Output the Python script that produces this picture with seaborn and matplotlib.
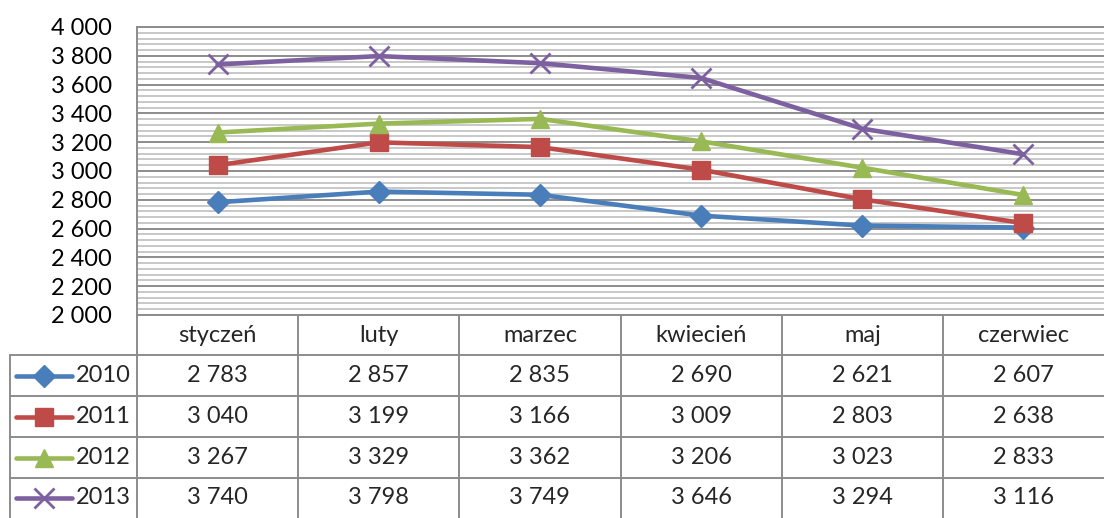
import matplotlib
matplotlib.use("Agg")
import matplotlib.pyplot as plt
import seaborn as sns
import pandas as pd
from matplotlib.ticker import MultipleLocator, FuncFormatter

# data
months = ["styczeń", "luty", "marzec", "kwiecień", "maj", "czerwiec"]
years = ["2010", "2011", "2012", "2013"]
v2010 = [2783, 2857, 2835, 2690, 2621, 2607]
v2011 = [3040, 3199, 3166, 3009, 2803, 2638]
v2012 = [3267, 3329, 3362, 3206, 3023, 2833]
v2013 = [3740, 3798, 3749, 3646, 3294, 3116]
series = [v2010, v2011, v2012, v2013]

colors = ["#4A7EBB", "#BE4B48", "#98B954", "#7D60A0"]
markers = ["D", "s", "^", "x"]
msizes = [11, 13, 13, 14]
FS = 17

sns.set_theme(style="white")
plt.rcParams["font.family"] = ["Lato", "DejaVu Sans"]

W, H = 1104, 518
fig = plt.figure(figsize=(W / 100, H / 100), dpi=100)

# plot area in pixel coords
px_left, px_right, px_top, px_bot = 137, 1104, 27, 315
ax = fig.add_axes([px_left / W, 1 - px_bot / H, (px_right - px_left) / W, (px_bot - px_top) / H])

def fmt(v):
    return f"{int(v):,}".replace(",", " ")

df = pd.DataFrame({
    "x": list(range(len(months))) * len(years),
    "value": sum(series, []),
    "year": [y for y in years for _ in months],
})

for i, yr in enumerate(years):
    sub = df[df["year"] == yr]
    sns.lineplot(data=sub, x="x", y="value", ax=ax, color=colors[i], lw=3.3,
                 marker=markers[i], markersize=msizes[i], mec=colors[i],
                 mfc=colors[i], mew=2 if markers[i] == "x" else 1,
                 legend=False, zorder=3)

ax.set_xlim(-0.5, len(months) - 0.5)
ax.set_ylim(2000, 4000)
ax.yaxis.set_major_locator(MultipleLocator(200))
ax.yaxis.set_minor_locator(MultipleLocator(40))
ax.yaxis.set_major_formatter(FuncFormatter(lambda v, p: fmt(v)))
ax.grid(which="minor", axis="y", color="#C4C4C4", lw=1.3)
ax.grid(which="major", axis="y", color="#8C8C8C", lw=1.4)
ax.set_axisbelow(True)
ax.set_xticks([])
ax.set_xlabel("")
ax.set_ylabel("")
ax.tick_params(axis="y", which="both", length=0, pad=18, labelsize=FS, colors="black")
ax.spines["right"].set_visible(False)
for s in ["left", "top", "bottom"]:
    ax.spines[s].set_color("#8C8C8C")
    ax.spines[s].set_linewidth(1.4)

# data table below the plot
tax = fig.add_axes([0, 0, 1, (H - px_bot) / H])
tax.set_xlim(0, W)
tax.set_ylim(H, px_bot)
tax.axis("off")

gc = "#8C8C8C"
col_w = (px_right - px_left) / len(months)
row_edges = [315, 355, 396, 437, 478, 518]
leg_left = 10

# vertical dividers
for j in range(len(months)):
    xv = px_left + j * col_w
    tax.plot([xv, xv], [row_edges[0], H], color=gc, lw=1.4)
tax.plot([leg_left, leg_left], [row_edges[1], H], color=gc, lw=1.4)
# horizontal dividers
for r in row_edges[1:-1]:
    tax.plot([leg_left, px_right], [r, r], color=gc, lw=1.4)

# header
hy = (row_edges[0] + row_edges[1]) / 2
for j, m in enumerate(months):
    tax.text(px_left + (j + 0.5) * col_w, hy, m, ha="center", va="center", fontsize=FS)

# rows
for i, yr in enumerate(years):
    cy = (row_edges[i + 1] + row_edges[i + 2]) / 2
    tax.plot([16, 72], [cy, cy], color=colors[i], lw=3.3, solid_capstyle="round")
    tax.plot([44], [cy], marker=markers[i], markersize=msizes[i], color=colors[i],
             mec=colors[i], mew=2 if markers[i] == "x" else 1)
    tax.text(76, cy, yr, ha="left", va="center", fontsize=FS)
    for j, v in enumerate(series[i]):
        tax.text(px_left + (j + 0.5) * col_w, cy, fmt(v), ha="center", va="center", fontsize=FS)

fig.savefig("out.png", dpi=100)
